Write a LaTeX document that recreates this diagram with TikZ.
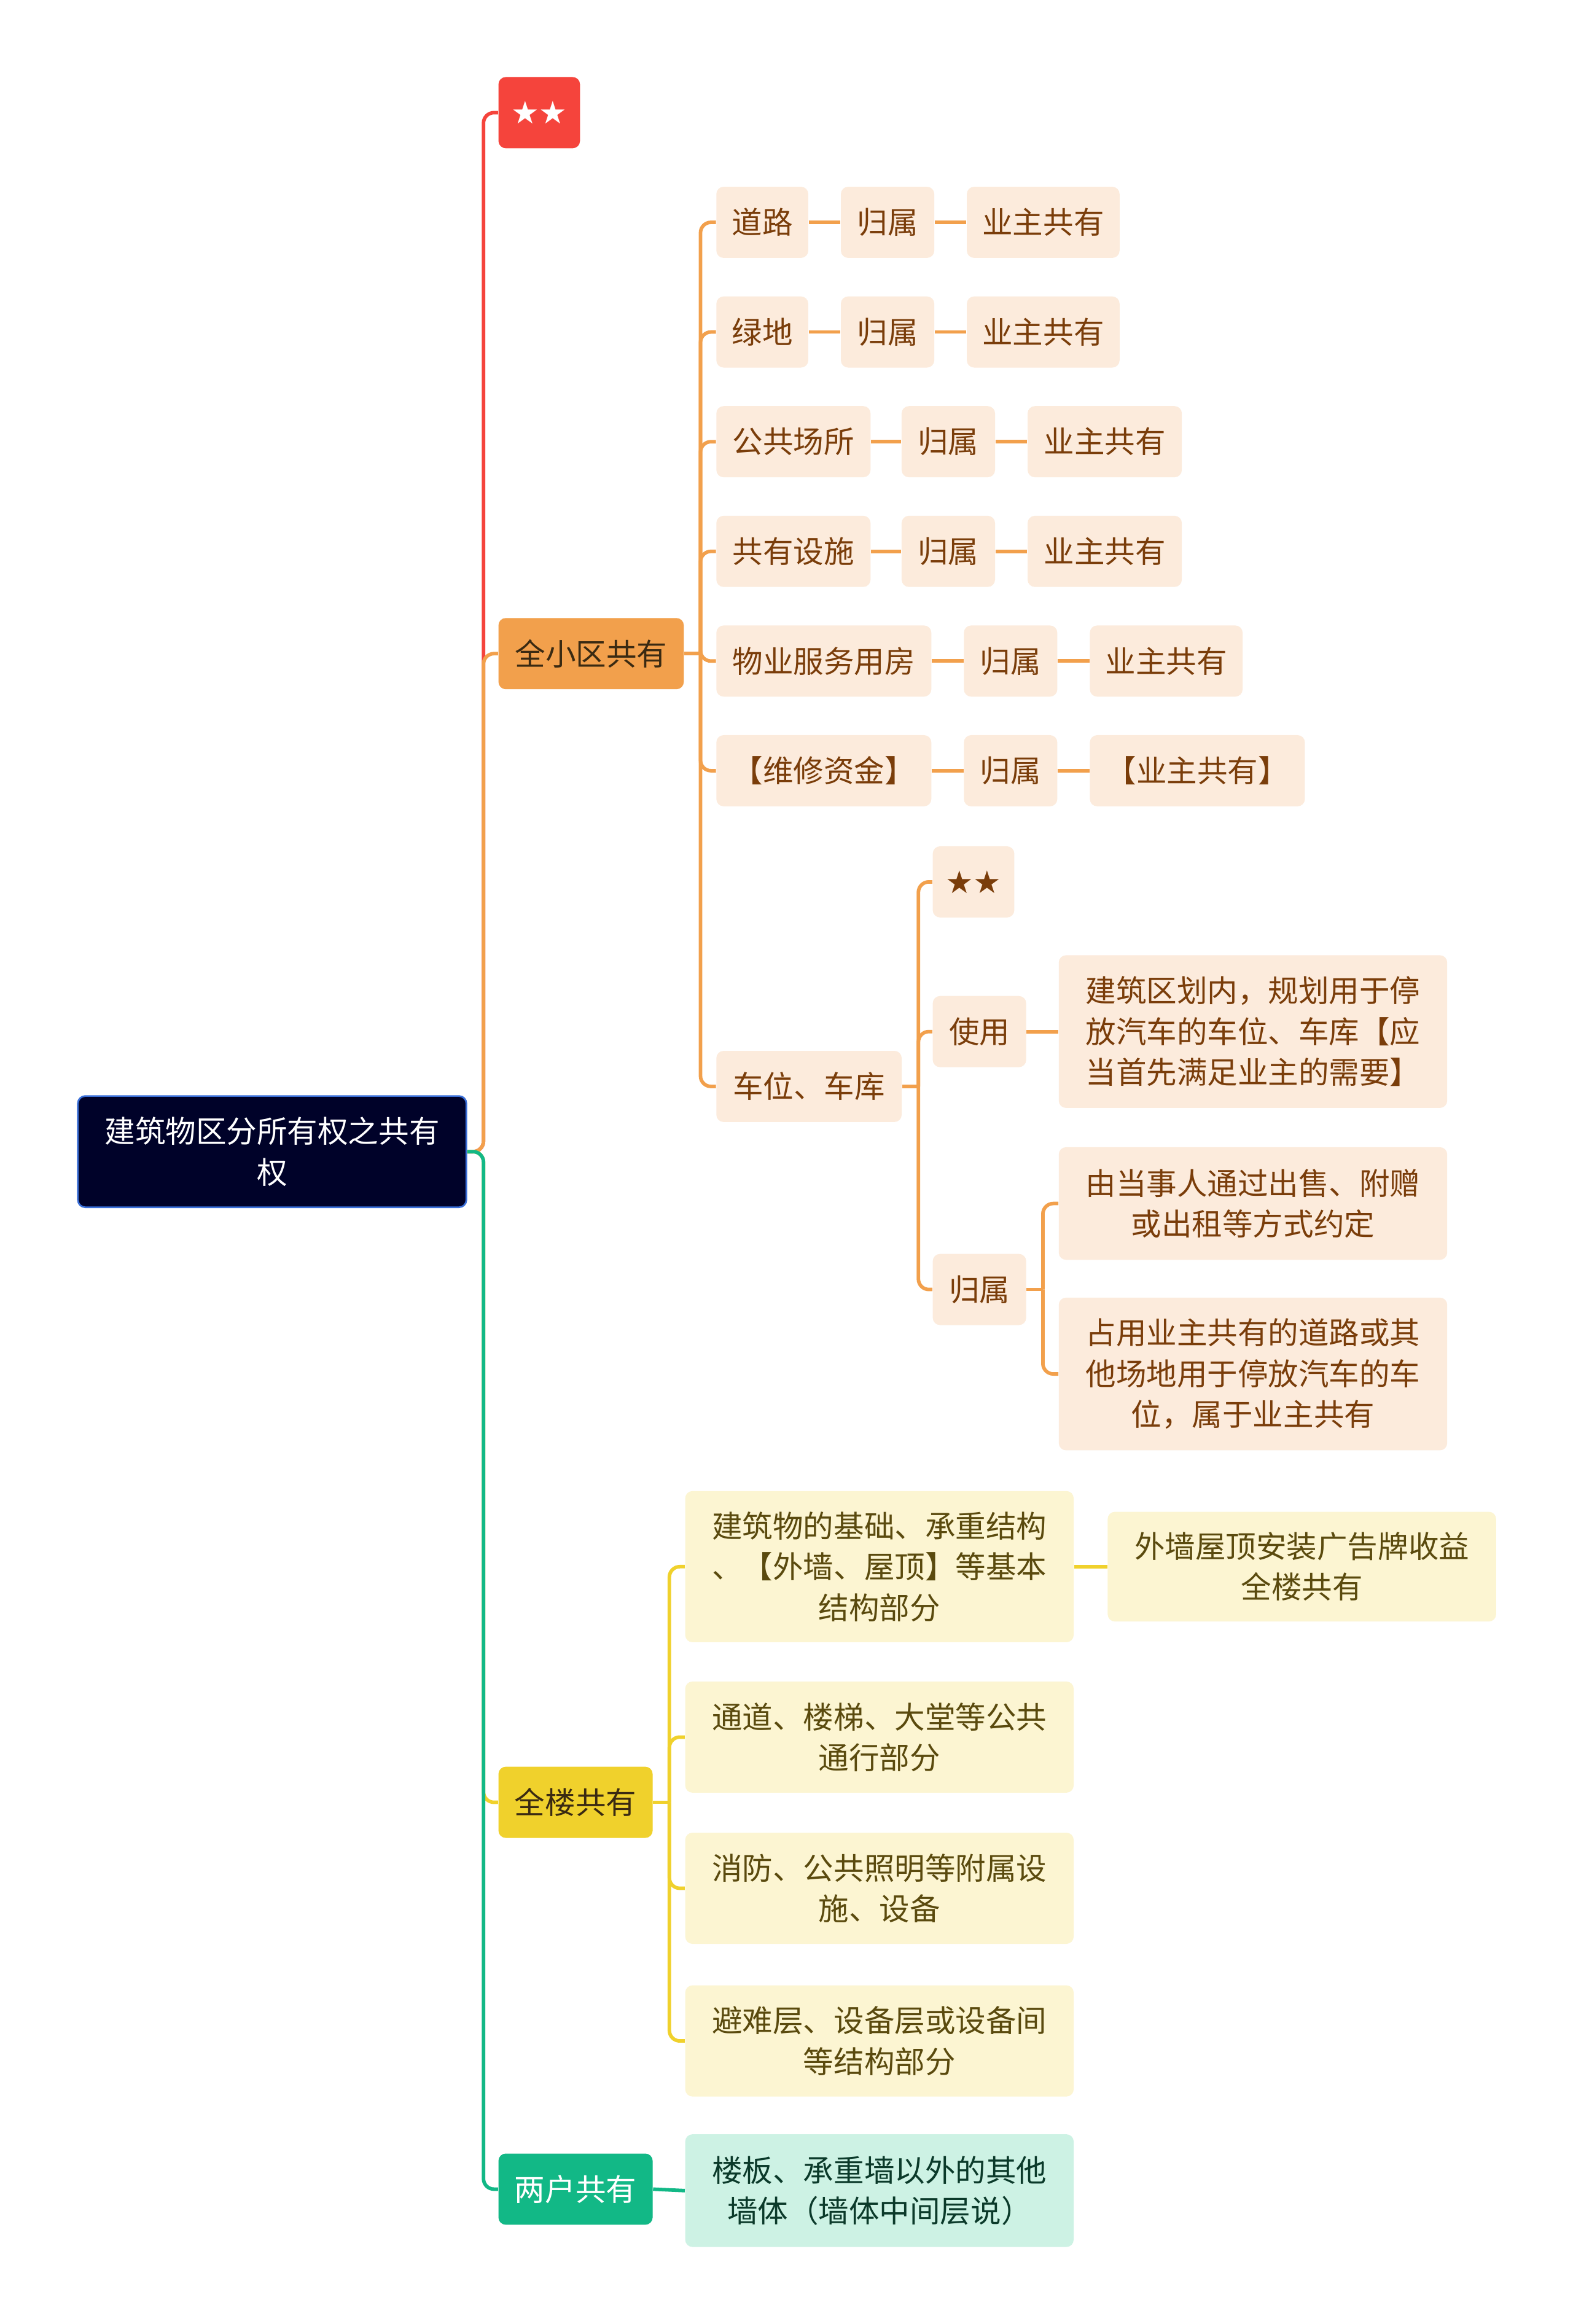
\documentclass[tikz,border=0pt]{standalone}
\usepackage{fontspec}
\setmainfont{Noto Sans CJK SC}
\newfontfamily\symfont{DejaVu Sans}
\usetikzlibrary{calc}
\definecolor{rootbg}{HTML}{000229}
\definecolor{rootln}{HTML}{3A6FD8}
\definecolor{redc}{HTML}{F5443C}
\definecolor{orc}{HTML}{F2A04C}
\definecolor{orlt}{HTML}{FCEBDC}
\definecolor{ortx}{HTML}{7A3D0A}
\definecolor{ylc}{HTML}{F0D12C}
\definecolor{yllt}{HTML}{FCF5D2}
\definecolor{yltx}{HTML}{5A4A0E}
\definecolor{grc}{HTML}{12B886}
\definecolor{grlt}{HTML}{CDF2E4}
\definecolor{grtx}{HTML}{0B3A2A}
\definecolor{dark}{HTML}{3A2A12}
\tikzset{
  box/.style={rounded corners=3.5pt, align=center, inner sep=0pt, anchor=west,
              font=\fontsize{14.6}{19.6}\selectfont, minimum height=1.2cm},
  rootbox/.style={box, fill=rootbg, draw=rootln, line width=0.8pt, text=white},
  redbox/.style={box, fill=redc, text=white},
  orbox/.style={box, fill=orc, text=dark},
  orltbox/.style={box, fill=orlt, text=ortx},
  ylbox/.style={box, fill=ylc, text=dark},
  ylltbox/.style={box, fill=yllt, text=yltx},
  grbox/.style={box, fill=grc, text=white},
  grltbox/.style={box, fill=grlt, text=grtx},
  stars/.style={font=\symfont\fontsize{15}{15}\selectfont},
  ln/.style={line width=1.7pt, rounded corners=5pt},
  redln/.style={ln, draw=redc},
  orln/.style={ln, draw=orc},
  ylln/.style={ln, draw=ylc},
  grln/.style={ln, draw=grc}
}
\begin{document}
\begin{tikzpicture}[x=0.025cm,y=-0.025cm]
  \fill[white] (0,0) rectangle (1061,1568);

  \node[rootbox, minimum width=6.55cm, minimum height=1.875cm] (root) at (52,777)
     {建筑物区分所有权之共有\\权};

  % first level
  \node[redbox, stars, minimum width=1.375cm] (star) at (336,76) {★★};
  \node[orbox, minimum width=3.125cm] (qxq) at (336,441) {全小区共有};
  \node[ylbox, minimum width=2.6cm] (ql) at (336,1216) {全楼共有};
  \node[grbox, minimum width=2.6cm] (lh) at (336,1477) {两户共有};

  % 全小区共有
  \node[orltbox, minimum width=1.55cm] (dl) at (483,150) {道路};
  \node[orltbox, minimum width=1.575cm] (dlgs) at (567,150) {归属};
  \node[orltbox, minimum width=2.575cm] (dlyz) at (652,150) {业主共有};
  \node[orltbox, minimum width=1.55cm] (ld) at (483,224) {绿地};
  \node[orltbox, minimum width=1.575cm] (ldgs) at (567,224) {归属};
  \node[orltbox, minimum width=2.575cm] (ldyz) at (652,224) {业主共有};
  \node[orltbox, minimum width=2.6cm] (gccs) at (483,298) {公共场所};
  \node[orltbox, minimum width=1.575cm] (gccsgs) at (608,298) {归属};
  \node[orltbox, minimum width=2.6cm] (gccsyz) at (693,298) {业主共有};
  \node[orltbox, minimum width=2.6cm] (gyss) at (483,372) {共有设施};
  \node[orltbox, minimum width=1.575cm] (gyssgs) at (608,372) {归属};
  \node[orltbox, minimum width=2.6cm] (gyssyz) at (693,372) {业主共有};
  \node[orltbox, minimum width=3.625cm] (wyfw) at (483,446) {物业服务用房};
  \node[orltbox, minimum width=1.575cm] (wyfwgs) at (650,446) {归属};
  \node[orltbox, minimum width=2.575cm] (wyfwyz) at (735,446) {业主共有};
  \node[orltbox, minimum width=3.625cm] (wxzj) at (483,520) {【维修资金】};
  \node[orltbox, minimum width=1.575cm] (wxzjgs) at (650,520) {归属};
  \node[orltbox, minimum width=3.625cm] (wxzjyz) at (735,520) {【业主共有】};
  \node[orltbox, minimum width=3.125cm] (cwck) at (483,733) {车位、车库};

  % 车位、车库
  \node[orltbox, stars, minimum width=1.375cm] (cwstar) at (629,595) {★★};
  \node[orltbox, minimum width=1.575cm] (cwsy) at (629,696) {使用};
  \node[orltbox, minimum width=6.55cm, minimum height=2.575cm] (cwsytx) at (714,696)
     {建筑区划内，规划用于停\\放汽车的车位、车库【应\\当首先满足业主的需要】};
  \node[orltbox, minimum width=1.575cm] (cwgs) at (629,870) {归属};
  \node[orltbox, minimum width=6.55cm, minimum height=1.9cm] (cwgsa) at (714,812)
     {由当事人通过出售、附赠\\或出租等方式约定};
  \node[orltbox, minimum width=6.55cm, minimum height=2.575cm] (cwgsb) at (714,927)
     {占用业主共有的道路或其\\他场地用于停放汽车的车\\位，属于业主共有};

  % 全楼共有
  \node[ylltbox, minimum width=6.55cm, minimum height=2.55cm] (qljc) at (462,1057)
     {建筑物的基础、承重结构\\、【外墙、屋顶】等基本\\结构部分};
  \node[ylltbox, minimum width=6.55cm, minimum height=1.85cm] (qljcgg) at (747,1057)
     {外墙屋顶安装广告牌收益\\全楼共有};
  \node[ylltbox, minimum width=6.55cm, minimum height=1.875cm] (qltd) at (462,1172)
     {通道、楼梯、大堂等公共\\通行部分};
  \node[ylltbox, minimum width=6.55cm, minimum height=1.875cm] (qlxf) at (462,1274)
     {消防、公共照明等附属设\\施、设备};
  \node[ylltbox, minimum width=6.55cm, minimum height=1.875cm] (qlbn) at (462,1377)
     {避难层、设备层或设备间\\等结构部分};

  % 两户共有
  \node[grltbox, minimum width=6.55cm, minimum height=1.9cm] (lhqt) at (462,1478)
     {楼板、承重墙以外的其他\\墙体（墙体中间层说）};

  % connectors
  \coordinate (rootj) at ($(root.east)+(11,0)$);
  \coordinate (qxqj) at ($(qxq.east)+(11,0)$);
  \coordinate (cwj) at ($(cwck.east)+(11,0)$);
  \coordinate (cwgsj) at ($(cwgs.east)+(11,0)$);
  \coordinate (qlj) at ($(ql.east)+(11,0)$);

  \draw[redln] (root.east) -- (rootj) |- (star.west);
  \draw[orln] (root.east) -- (rootj) |- (qxq.west);
  \draw[ylln] (root.east) -- (rootj) |- (ql.west);
  \draw[grln] (root.east) -- (rootj) |- (lh.west);

  \draw[orln] (qxq.east) -- (qxqj);
  \foreach \c in {dl,ld,gccs,gyss,wyfw,wxzj,cwck}
    \draw[orln] (qxqj) |- (\c.west);
  \foreach \a/\b in {dl/dlgs,dlgs/dlyz,ld/ldgs,ldgs/ldyz,gccs/gccsgs,gccsgs/gccsyz,
                     gyss/gyssgs,gyssgs/gyssyz,wyfw/wyfwgs,wyfwgs/wyfwyz,
                     wxzj/wxzjgs,wxzjgs/wxzjyz,cwsy/cwsytx}
    \draw[orln] (\a.east) -- (\b.west);

  \draw[orln] (cwck.east) -- (cwj);
  \foreach \c in {cwstar,cwsy,cwgs}
    \draw[orln] (cwj) |- (\c.west);
  \draw[orln] (cwgs.east) -- (cwgsj);
  \foreach \c in {cwgsa,cwgsb}
    \draw[orln] (cwgsj) |- (\c.west);

  \draw[ylln] (ql.east) -- (qlj);
  \foreach \c in {qljc,qltd,qlxf,qlbn}
    \draw[ylln] (qlj) |- (\c.west);
  \draw[ylln] (qljc.east) -- (qljcgg.west);

  \draw[grln] (lh.east) -- (lhqt.west);
\end{tikzpicture}
\end{document}
